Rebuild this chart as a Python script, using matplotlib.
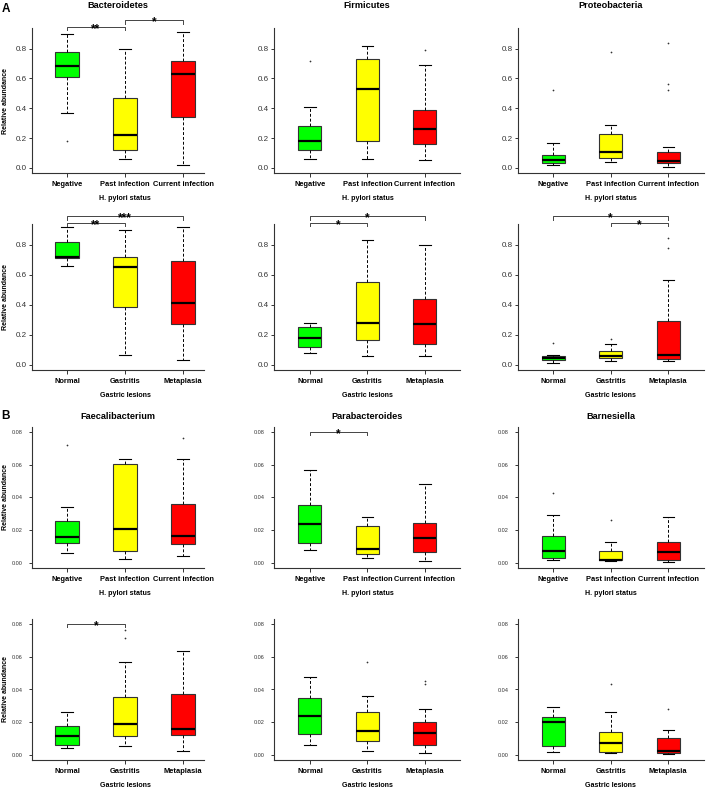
import matplotlib
matplotlib.use('Agg')
import matplotlib.pyplot as plt
from matplotlib import transforms

plt.rcParams['font.family'] = ['Liberation Sans', 'DejaVu Sans']

hp_groups = ['Negative', 'Past infection', 'Current infection']
lesion_groups = ['Normal', 'Gastritis', 'Metaplasia']
box_colors = ['#00ff00', '#ffff00', '#ff0000']

# five-number summaries per group: (whisker low, q1, median, q3, whisker high)
bact_hp = [(0.37, 0.61, 0.68, 0.78, 0.90), (0.06, 0.12, 0.22, 0.47, 0.80), (0.02, 0.34, 0.63, 0.72, 0.91)]
bact_hp_out = [[0.18], [], []]
firm_hp = [(0.06, 0.12, 0.18, 0.28, 0.41), (0.06, 0.18, 0.53, 0.73, 0.82), (0.05, 0.16, 0.26, 0.39, 0.69)]
firm_hp_out = [[0.72], [], [0.79]]
prot_hp = [(0.018, 0.033, 0.05, 0.087, 0.165), (0.042, 0.067, 0.11, 0.23, 0.29), (0.007, 0.03, 0.045, 0.105, 0.14)]
prot_hp_out = [[0.52], [0.78], [0.84, 0.56, 0.52]]

bact_les = [(0.66, 0.71, 0.72, 0.82, 0.915), (0.065, 0.385, 0.65, 0.72, 0.90), (0.03, 0.27, 0.41, 0.69, 0.915)]
bact_les_out = [[], [], []]
firm_les = [(0.08, 0.12, 0.18, 0.253, 0.275), (0.06, 0.165, 0.28, 0.55, 0.83), (0.06, 0.135, 0.27, 0.44, 0.795)]
firm_les_out = [[], [], []]
prot_les = [(0.01, 0.03, 0.042, 0.058, 0.062), (0.022, 0.045, 0.06, 0.09, 0.138), (0.025, 0.04, 0.065, 0.29, 0.565)]
prot_les_out = [[0.145], [0.17], [0.845, 0.78]]

faec_hp = [(0.0057, 0.0122, 0.0159, 0.0254, 0.0344), (0.0026, 0.0075, 0.021, 0.0607, 0.0637), (0.0043, 0.0112, 0.0165, 0.0362, 0.0637)]
faec_hp_out = [[0.072], [], [0.0765]]
para_hp = [(0.0079, 0.0124, 0.024, 0.0354, 0.0566), (0.003, 0.0051, 0.0083, 0.0224, 0.0279), (0.0012, 0.0065, 0.015, 0.0244, 0.048)]
para_hp_out = [[], [], []]
barn_hp = [(0.0016, 0.003, 0.0073, 0.0167, 0.0295), (0.0008, 0.0016, 0.002, 0.0075, 0.0128), (0.0004, 0.002, 0.0067, 0.0126, 0.028)]
barn_hp_out = [[0.043], [0.026], []]

faec_les = [(0.0039, 0.0057, 0.0118, 0.0176, 0.0263), (0.0051, 0.0114, 0.0186, 0.0351, 0.0571), (0.0024, 0.0122, 0.0155, 0.0371, 0.0635)]
faec_les_out = [[], [0.0716, 0.0767], []]
para_les = [(0.0061, 0.0129, 0.0237, 0.0347, 0.0478), (0.0024, 0.0086, 0.0143, 0.0263, 0.0359), (0.0008, 0.0057, 0.0133, 0.0202, 0.0278)]
para_les_out = [[], [0.0567], [0.0453, 0.0431]]
barn_les = [(0.002, 0.0055, 0.0202, 0.0233, 0.0294), (0.0008, 0.002, 0.0071, 0.0139, 0.0263), (0.0004, 0.0012, 0.0024, 0.0104, 0.0151)]
barn_les_out = [[], [0.0431], [0.0282]]

# significance brackets: (group i, group j, height, label)
bact_hp_sig = [(1, 2, 0.947, '**'), (2, 3, 0.989, '*')]
bact_les_sig = [(1, 2, 0.945, '**'), (1, 3, 0.991, '***')]
firm_les_sig = [(1, 2, 0.945, '*'), (1, 3, 0.989, '*')]
prot_les_sig = [(2, 3, 0.945, '*'), (1, 3, 0.989, '*')]
para_hp_sig = [(1, 2, 0.0802, '*')]
faec_les_sig = [(1, 2, 0.0802, '*')]

rows = [
    dict(groups=hp_groups, xlabel='H. pylori status', big=True,
         titles=['Bacteroidetes', 'Firmicutes', 'Proteobacteria'],
         panels=[(bact_hp, bact_hp_out, bact_hp_sig), (firm_hp, firm_hp_out, []), (prot_hp, prot_hp_out, [])]),
    dict(groups=lesion_groups, xlabel='Gastric lesions', big=True, titles=None,
         panels=[(bact_les, bact_les_out, bact_les_sig), (firm_les, firm_les_out, firm_les_sig),
                 (prot_les, prot_les_out, prot_les_sig)]),
    dict(groups=hp_groups, xlabel='H. pylori status', big=False,
         titles=['Faecalibacterium', 'Parabacteroides', 'Barnesiella'],
         panels=[(faec_hp, faec_hp_out, []), (para_hp, para_hp_out, para_hp_sig), (barn_hp, barn_hp_out, [])]),
    dict(groups=lesion_groups, xlabel='Gastric lesions', big=False, titles=None,
         panels=[(faec_les, faec_les_out, faec_les_sig), (para_les, para_les_out, []), (barn_les, barn_les_out, [])]),
]

W, H = 708, 792
fig = plt.figure(figsize=(W / 100, H / 100), dpi=100)

cols_px = [(32, 204, 0.397, 3.36), (274, 460, 0.374, 3.61), (518, 704, 0.39, 3.62)]
rows_px = [(28.3, 173.3), (224.3, 370), (427, 568), (619, 760)]
title_px = [6, None, 416, None]

for r, row in enumerate(rows):
    top, bot = rows_px[r]
    for c, (stats5, outs, sig) in enumerate(row['panels']):
        left, right, x0, x1 = cols_px[c]
        ax = fig.add_axes([left / W, 1 - bot / H, (right - left) / W, (bot - top) / H])
        stats = [dict(whislo=s[0], q1=s[1], med=s[2], q3=s[3], whishi=s[4], fliers=f)
                 for s, f in zip(stats5, outs)]
        bp = ax.bxp(stats, positions=[1, 2, 3], widths=0.4, capwidths=0.2, patch_artist=True,
                    boxprops=dict(edgecolor='#333333', linewidth=0.8),
                    medianprops=dict(color='black', linewidth=1.6, solid_capstyle='butt'),
                    whiskerprops=dict(color='black', linewidth=0.7, linestyle=(0, (3, 2))),
                    capprops=dict(color='black', linewidth=0.8),
                    flierprops=dict(marker='.', markersize=2.5, markerfacecolor='#333333',
                                    markeredgecolor='none'))
        for patch, col in zip(bp['boxes'], box_colors):
            patch.set_facecolor(col)

        if row['big']:
            ax.set_ylim(-0.036, 0.936)
            ax.set_yticks([0.0, 0.2, 0.4, 0.6, 0.8])
            ax.set_yticklabels(['0.0', '0.2', '0.4', '0.6', '0.8'])
            ax.tick_params(axis='y', labelsize=5.8, pad=1.5)
            tip = 0.023
        else:
            ax.set_ylim(-0.0032, 0.0832)
            ax.set_yticks([0.0, 0.02, 0.04, 0.06, 0.08])
            ax.set_yticklabels(['0.00', '0.02', '0.04', '0.06', '0.08'])
            ax.tick_params(axis='y', labelsize=4.0, pad=4.5)
            tip = 0.0021
        ax.set_xlim(x0, x1)
        ax.set_xticks([1, 2, 3])
        ax.set_xticklabels(row['groups'], fontsize=5.4, fontweight='bold')
        ax.tick_params(axis='x', length=3, width=0.7, pad=2.5, color='#333333')
        ax.tick_params(axis='y', length=2.2, width=0.7, color='#333333', labelcolor='#333333')
        for s in ['top', 'right']:
            ax.spines[s].set_visible(False)
        for s in ['left', 'bottom']:
            ax.spines[s].set_linewidth(0.8)
            ax.spines[s].set_color('#333333')

        trans = transforms.blended_transform_factory(ax.transData, ax.transAxes)
        ax.text(2, -25.5 / (bot - top), row['xlabel'], transform=trans, ha='center', va='center',
                fontsize=5.1, fontweight='bold')

        if row['titles'] is not None:
            fig.text((left + right) / 2 / W, 1 - title_px[r] / H, row['titles'][c],
                     ha='center', va='center', fontsize=6.6, fontweight='bold')

        star_trans = transforms.offset_copy(ax.transData, fig=fig, y=-3.6, units='points')
        for i, j, y, lab in sig:
            ax.plot([i, i, j, j], [y - tip, y, y, y - tip], color='#444444', lw=0.7, clip_on=False)
            ax.text((i + j) / 2, y, lab, transform=star_trans, ha='center', va='baseline',
                    fontsize=8.5, fontweight='bold', clip_on=False)

        if c == 0:
            fig.text(6 / W, 1 - (top + bot) / 2 / H, 'Relative abundance', rotation=90,
                     ha='center', va='center', fontsize=5.0, fontweight='bold')

fig.text(6 / W, 1 - 9 / H, 'A', ha='center', va='center', fontsize=8.5, fontweight='bold')
fig.text(6 / W, 1 - 416 / H, 'B', ha='center', va='center', fontsize=8.5, fontweight='bold')

fig.savefig('out.png', dpi=100)
